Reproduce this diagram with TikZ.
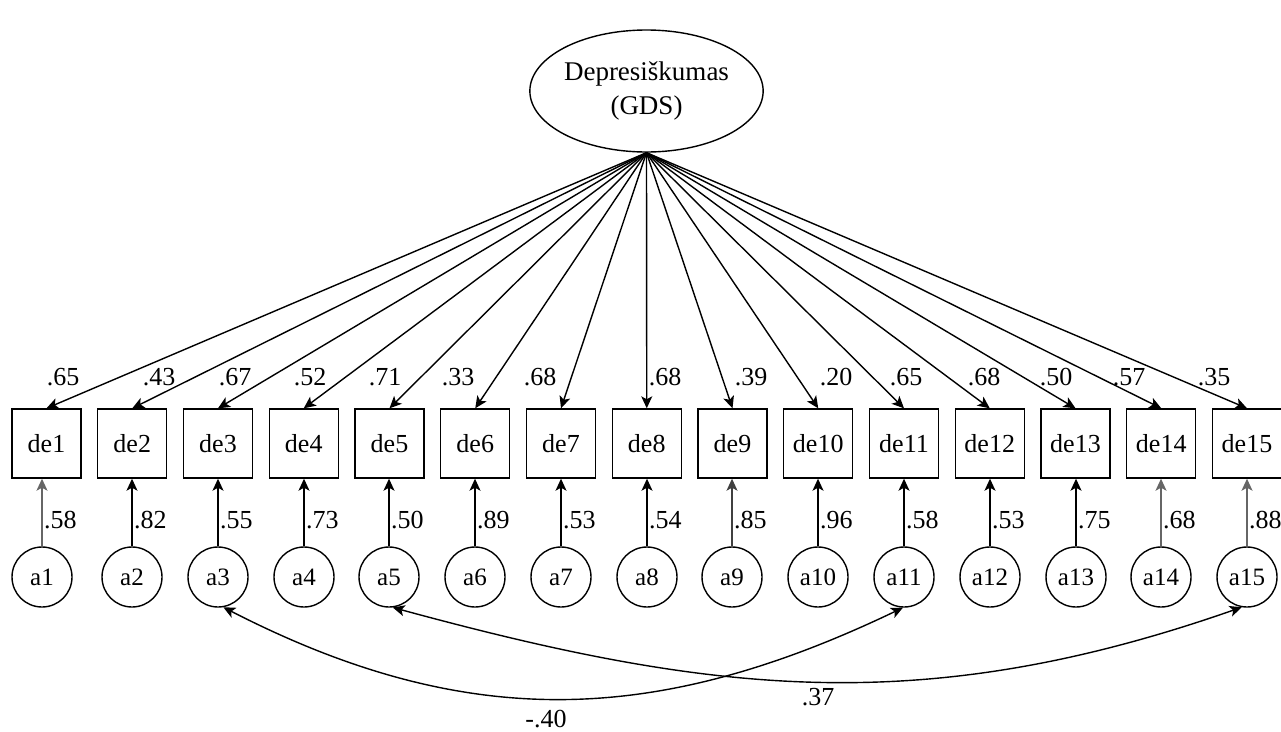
\documentclass[tikz,border=0pt]{standalone}
\usepackage{fontspec}
\setmainfont{Liberation Serif}
\usetikzlibrary{arrows.meta,shapes.geometric}
\begin{document}
\begin{tikzpicture}[x=1pt,y=-1pt,
  obs/.style={draw, line width=1.4pt, minimum width=69pt, minimum height=69pt, inner sep=0pt, font=\fontsize{26}{30}\selectfont},
  err/.style={draw, circle, line width=1.4pt, minimum size=60pt, inner sep=0pt, font=\fontsize{25}{30}\selectfont},
  lbl/.style={inner sep=0pt, font=\fontsize{26}{30}\selectfont},
  conn/.style={line width=1.4pt, -{Stealth[length=12pt,width=11pt,inset=3pt]}},
  cov/.style={line width=1.4pt, {Stealth[length=12pt,width=11pt,inset=3pt]}-{Stealth[length=12pt,width=11pt,inset=3pt]}},
  latent/.style={draw, ellipse, line width=1.4pt, minimum width=207pt, minimum height=122pt, inner sep=0pt, align=center, font=\fontsize{27}{34}\selectfont}
]
\fill[white] (0,0) rectangle (1281,731);
\useasboundingbox (0,0) rectangle (1281,731);
\node[latent] (lv) at (646.5,91) {Depresiškumas\\(GDS)};
\foreach \i/\ll/\el/\lx/\ax/\col in {
1/.65/.58/63/42/black!60,
2/.43/.82/159/132/black,
3/.67/.55/235/218/black,
4/.52/.73/310/304/black,
5/.71/.50/385/389/black,
6/.33/.89/458/475/black,
7/.68/.53/540/561/black,
8/.68/.54/665/647/black,
9/.39/.85/751/732/black!75,
10/.20/.96/836/818/black,
11/.65/.58/906/904/black,
12/.68/.53/984/990/black,
13/.50/.75/1056/1076/black,
14/.57/.68/1129/1161/black!60,
15/.35/.88/1214/1247/black!60}{
  \pgfmathsetmacro\bx{46.5+(\i-1)*85.75}
  \node[obs] (de\i) at (\bx,443.5) {de\i};
  \node[err] (a\i) at (\ax,577) {a\i};
  \draw[conn] (lv.south) -- (de\i.north);
  \draw[conn, draw=\col] (a\i.north) -- (a\i.north |- de\i.south);
  \node[lbl] (ll\i) at (\lx,377) {\ll};
  \node[lbl, anchor=west] (el\i) at (\ax+2,520) {\el};
}
\draw[cov] (a3.-80) .. controls (470,734) and (660,724) .. (a11.-92);
\draw[cov] (a5.-83) .. controls (711,694) and (922,719) .. (a15.-100);
\node[lbl] (c1) at (546,719) {-.40};
\node[lbl] (c2) at (818,697) {.37};
\end{tikzpicture}
\end{document}
